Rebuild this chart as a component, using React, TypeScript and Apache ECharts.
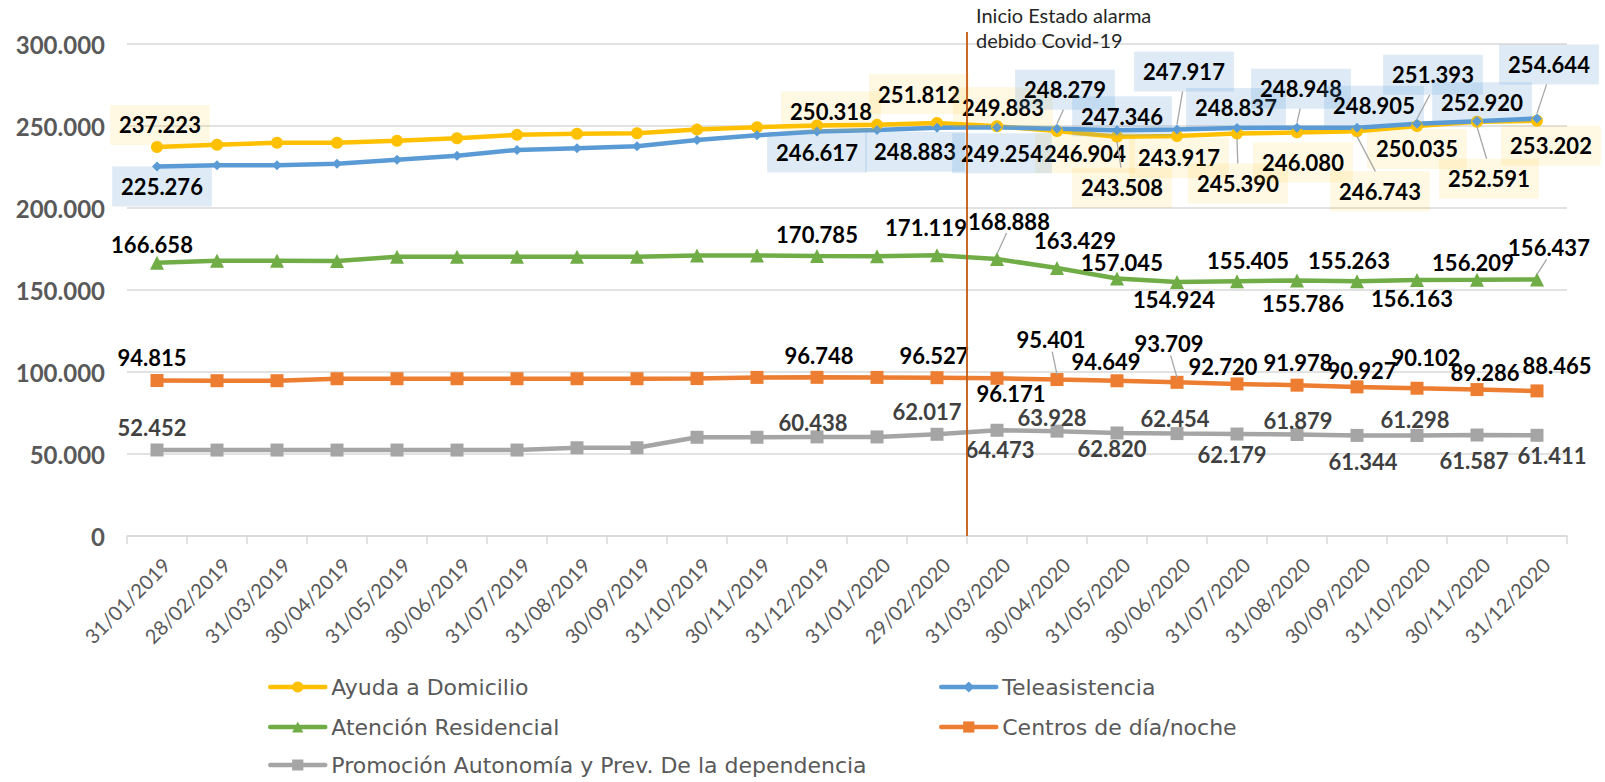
import React, { useEffect, useRef } from 'react';
import * as echarts from 'echarts';

const categories = [
  '31/01/2019', '28/02/2019', '31/03/2019', '30/04/2019', '31/05/2019', '30/06/2019',
  '31/07/2019', '31/08/2019', '30/09/2019', '31/10/2019', '30/11/2019', '31/12/2019',
  '31/01/2020', '29/02/2020', '31/03/2020', '30/04/2020', '31/05/2020', '30/06/2020',
  '31/07/2020', '31/08/2020', '30/09/2020', '31/10/2020', '30/11/2020', '31/12/2020',
];

const ayudaDomicilio = [237223, 238600, 239800, 239800, 241000, 242500, 244600, 245300, 245600, 247800, 249300, 250318,
  250700, 251812, 249883, 246904, 243508, 243917, 245390, 246080, 246743, 250035, 252591, 253202];
const teleasistencia = [225276, 226000, 226100, 227000, 229400, 231900, 235400, 236500, 237600, 241500, 244300, 246617,
  247500, 248883, 249254, 248279, 247346, 247917, 248837, 248948, 248905, 251393, 252920, 254644];
const atencionResidencial = [166658, 167900, 167900, 167700, 170300, 170300, 170300, 170300, 170300, 171000, 171000, 170785,
  170600, 171119, 168888, 163429, 157045, 154924, 155405, 155786, 155263, 156163, 156209, 156437];
const centrosDiaNoche = [94815, 94700, 94700, 95900, 95900, 95900, 95900, 95900, 95900, 96000, 96700, 96748,
  96700, 96527, 96171, 95401, 94649, 93709, 92720, 91978, 90927, 90102, 89286, 88465];
const promocionAutonomia = [52452, 52400, 52400, 52400, 52400, 52400, 52400, 53800, 53800, 60200, 60200, 60438,
  60400, 62017, 64473, 63928, 62820, 62454, 62179, 61879, 61344, 61298, 61587, 61411];

const seriesNames = [
  'Ayuda a Domicilio',
  'Teleasistencia',
  'Atención Residencial',
  'Centros de día/noche',
  'Promoción Autonomía y Prev. De la dependencia',
];

const annotationText = 'Inicio Estado alarma\ndebido Covid-19';

// label placement (pixel offsets from the point), style only
const labelOffsets: Record<string, Record<number, number[]>> = {
  ayuda: { 0: [3, -22], 11: [14, -14], 13: [-18, -29], 14: [6, -19], 15: [28, 22], 16: [5, 51], 17: [2, 22],
    18: [1, 50], 19: [6, 30], 20: [23, 60], 21: [0, 23], 22: [12, 57], 23: [14, 25] },
  tele: { 0: [5, 20], 11: [0, 21], 13: [-22, 24], 14: [5, 26], 15: [8, -39], 16: [5, -14], 17: [7, -58],
    18: [-1, -20], 19: [4, -39], 20: [17, -22], 21: [16, -49], 22: [5, -19], 23: [12, -54] },
  atencion: { 0: [-5, -18], 11: [0, -21], 13: [-11, -28], 14: [12, -38], 15: [18, -27], 16: [5, -16], 17: [-3, 18],
    18: [11, -21], 19: [6, 23], 20: [-8, -21], 21: [-5, 19], 22: [-4, -17], 23: [12, -32] },
  centros: { 0: [-5, -23], 11: [2, -22], 13: [-3, -22], 14: [14, 15], 15: [-6, -40], 16: [-11, -19], 17: [-8, -39],
    18: [-14, -17], 19: [1, -23], 20: [5, -16], 21: [9, -31], 22: [8, -17], 23: [20, -25] },
  promocion: { 0: [-5, -22], 11: [-4, -14], 13: [-10, -23], 14: [3, 19], 15: [-5, -14], 16: [-5, 16], 17: [-2, -15],
    18: [-5, 20], 19: [1, -14], 20: [6, 26], 21: [-2, -16], 22: [-3, 26], 23: [15, 20] },
};
const leaderIdx: Record<string, number[]> = {
  ayuda: [16, 18, 20, 22],
  tele: [15, 17, 19, 21, 23],
  atencion: [14, 23],
  centros: [15, 17],
  promocion: [],
};

const fmt = (v: number) => Math.round(v).toString().replace(/\B(?=(\d{3})+(?!\d))/g, '.');
const FONT = 'Lato';

export default function App() {
  const ref = useRef<HTMLDivElement>(null);
  useEffect(() => {
    if (!ref.current) return;
    const chart = echarts.init(ref.current, null, { renderer: 'svg' });

    const defs = [
      { key: 'ayuda', name: seriesNames[0], data: ayudaDomicilio, color: '#FFC000', symbol: 'circle', size: 12, bg: 'rgba(255,192,0,0.11)', text: '#000' },
      { key: 'tele', name: seriesNames[1], data: teleasistencia, color: '#5B9BD5', symbol: 'diamond', size: 10, bg: 'rgba(91,155,213,0.2)', text: '#000' },
      { key: 'atencion', name: seriesNames[2], data: atencionResidencial, color: '#70AD47', symbol: 'triangle', size: 14, bg: null, text: '#000' },
      { key: 'centros', name: seriesNames[3], data: centrosDiaNoche, color: '#ED7D31', symbol: 'rect', size: 13, bg: null, text: '#000' },
      { key: 'promocion', name: seriesNames[4], data: promocionAutonomia, color: '#A5A5A5', symbol: 'rect', size: 13, bg: null, text: '#404040' },
    ];

    const lineSeries = defs.map((d) => ({
      type: 'line',
      name: d.name,
      symbol: d.symbol,
      symbolSize: d.size,
      showAllSymbol: true,
      lineStyle: { width: 4.5, color: d.color },
      itemStyle: { color: d.color },
      z: 3,
      label: { show: false },
      data: d.data.map((v, i) => {
        const off = labelOffsets[d.key][i];
        return off
          ? {
              value: v,
              label: {
                show: true,
                position: 'inside',
                offset: off,
                formatter: (p: any) => fmt(p.value),
                fontFamily: FONT,
                fontWeight: 'bold',
                fontSize: 22,
                lineHeight: 18,
                color: d.text,
                backgroundColor: d.bg || 'transparent',
                padding: d.bg ? [11, 9] : [0, 0],
              },
            }
          : { value: v };
      }),
    }));

    const leaderSeries = defs
      .filter((d) => leaderIdx[d.key].length)
      .map((d) => ({
        type: 'custom',
        name: 'leader-' + d.key,
        silent: true,
        z: 4,
        encode: { x: 0, y: 1 },
        data: leaderIdx[d.key].map((i) => [i, d.data[i]]),
        renderItem: (params: any, api: any) => {
          const idx = api.value(0);
          const p = api.coord([idx, api.value(1)]);
          const off = labelOffsets[d.key][idx];
          const s = off[1] < 0 ? -1 : 1;
          const halfH = d.bg ? 20 : 12;
          return {
            type: 'line',
            shape: {
              x1: p[0], y1: p[1] + s * 5,
              x2: p[0] + off[0] * 0.8, y2: p[1] + off[1] - s * halfH,
            },
            style: { stroke: '#A6A6A6', lineWidth: 1.3 },
          };
        },
      }));

    const legendRows = [
      { name: seriesNames[0], left: 263, y: 684 },
      { name: seriesNames[1], left: 934, y: 684 },
      { name: seriesNames[2], left: 263, y: 724 },
      { name: seriesNames[3], left: 934, y: 724 },
      { name: seriesNames[4], left: 263, y: 762 },
    ];

    chart.setOption({
      animation: false,
      backgroundColor: '#fff',
      grid: { left: 127, right: 38, top: 44, bottom: 246, containLabel: false },
      legend: legendRows.map((r) => ({
        data: [r.name],
        left: r.left,
        top: r.y - 13,
        itemWidth: 55,
        itemHeight: 14,
        itemGap: 0,
        selectedMode: false,
        lineStyle: { width: 4.5, cap: 'round' },
        textStyle: { fontFamily: 'DejaVu Sans', fontSize: 22, color: '#595959', padding: [0, 0, 0, 1] },
      })),
      xAxis: {
        type: 'category',
        data: categories,
        boundaryGap: true,
        axisLine: { lineStyle: { color: '#D9D9D9', width: 1.5 } },
        axisTick: { show: true, length: 8, lineStyle: { color: '#D9D9D9', width: 1.5 } },
        axisLabel: {
          interval: 0, rotate: 45, margin: 16, align: 'right', verticalAlign: 'top', padding: [3, 0, 0, 0],
          fontFamily: FONT, fontSize: 20, color: '#595959',
        },
      },
      yAxis: {
        type: 'value',
        min: 0,
        max: 300000,
        interval: 50000,
        axisLine: { show: false },
        axisTick: { show: false },
        splitLine: { lineStyle: { color: '#D9D9D9', width: 1.5 } },
        axisLabel: { margin: 22, formatter: (v: number) => fmt(v), fontFamily: FONT, fontWeight: 'bold', fontSize: 24, color: '#595959' },
      },
      series: [...lineSeries, ...leaderSeries],
    });

    const p13 = chart.convertToPixel({ gridIndex: 0 }, [13, 0]) as number[];
    const p14 = chart.convertToPixel({ gridIndex: 0 }, [14, 0]) as number[];
    const lx = (p13[0] + p14[0]) / 2;
    chart.setOption({
      graphic: [
        { type: 'line', z: 100, shape: { x1: lx, y1: 32, x2: lx, y2: p13[1] }, style: { stroke: '#C55A11', lineWidth: 1.8 } },
        { type: 'text', z: 100, x: lx + 9, y: 2, style: { text: annotationText, fontFamily: FONT, fontSize: 20, lineHeight: 25, fill: '#262626' } },
      ],
    });

    return () => chart.dispose();
  }, []);

  return <div ref={ref} style={{ position: 'fixed', left: 0, top: 0, width: 1605, height: 782 }} />;
}
